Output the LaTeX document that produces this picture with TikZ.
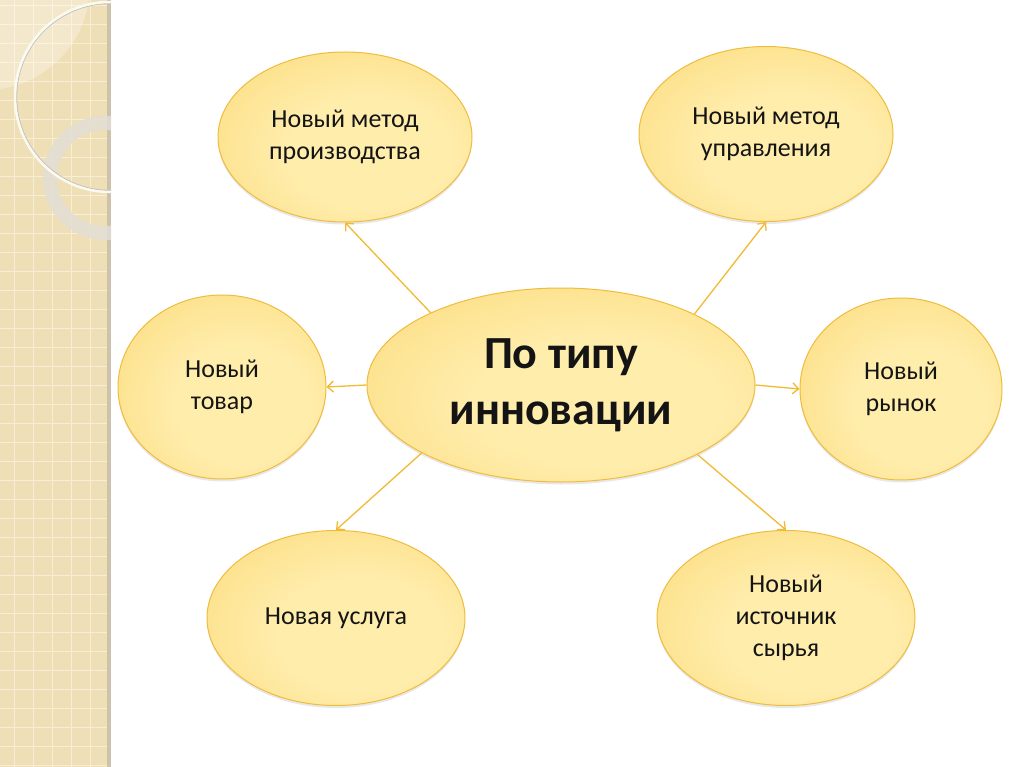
\documentclass[tikz,border=0pt]{standalone}
\usepackage{fontspec}
\setmainfont{Carlito}
\usetikzlibrary{shapes.geometric,arrows.meta,shadows}
\definecolor{ellfill}{RGB}{250,211,100}
\definecolor{elllight}{RGB}{255,237,172}
\definecolor{ellline}{RGB}{240,188,62}
\definecolor{arrowc}{RGB}{242,186,50}
\definecolor{stripc}{RGB}{239,223,183}
\definecolor{stripgrid}{RGB}{248,238,212}
\definecolor{stripedge}{RGB}{205,195,172}
\definecolor{ringc}{RGB}{226,222,212}
\definecolor{ringline}{RGB}{252,250,240}
\pgfdeclareradialshading{ellshade}{\pgfpoint{6bp}{-6bp}}{color(0bp)=(elllight); color(16bp)=(elllight); color(52bp)=(ellfill); color(75bp)=(ellfill)}
\tikzset{
  bubble/.style={ellipse, draw=ellline, line width=1pt, shading=ellshade,
    inner sep=0pt, align=center, text=black!92,
    font=\fontsize{26}{32}\selectfont,
    drop shadow={shadow xshift=0pt, shadow yshift=-2.5pt, opacity=0.09, fill=black}},
  conn/.style={draw=arrowc, line width=1.3pt, -{Straight Barb[length=6pt,width=11pt]}}
}
\begin{document}
\begin{tikzpicture}[x=1pt,y=-1pt]
\useasboundingbox (0,0) rectangle (1024,767);
\fill[white] (0,0) rectangle (1024,767);
% decorative strip
\begin{scope}
  \clip (0,0) rectangle (111,767);
  \fill[stripc] (0,0) rectangle (107,767);
  \foreach \i in {0,...,40} \draw[stripgrid, line width=0.9pt] (0,\i*19+5) -- (107,\i*19+5);
  \foreach \i in {0,...,5} \draw[stripgrid, line width=0.9pt] (\i*19+14,0) -- (\i*19+14,767);
  \fill[stripedge] (107,0) rectangle (111,767);
  \fill[white, opacity=0.3] (-15,-15) circle (105);
  \fill[ringc, opacity=0.85, even odd rule] (105,178) circle (62) (105,178) circle (48);
  \draw[black!25, line width=1pt] (110,97) circle (93.4);
  \draw[ringline, line width=2.5pt] (110,97) circle (95);
\end{scope}
% nodes
\node[bubble, minimum width=254pt, minimum height=170pt] (tl) at (345,137) {Новый метод\\производства};
\node[bubble, minimum width=254pt, minimum height=175pt] (tr) at (766,134) {Новый метод\\управления};
\node[bubble, minimum width=208pt, minimum height=184pt] (l) at (222,387) {Новый\\товар};
\node[bubble, minimum width=202pt, minimum height=182pt] (r) at (901,389) {Новый\\рынок};
\node[bubble, minimum width=258pt, minimum height=175pt] (bl) at (336,618) {Новая услуга};
\node[bubble, minimum width=258pt, minimum height=175pt] (br) at (786,618) {Новый\\источник\\сырья};
\node[bubble, minimum width=388pt, minimum height=194pt, font=\fontsize{46}{56}\selectfont\bfseries] (c) at (561,385) {По типу\\инновации};
% connectors
\draw[conn] (c.151) -- (tl.south);
\draw[conn] (c.28) -- (tr.south);
\draw[conn] (c.west) -- (l.east);
\draw[conn] (c.east) -- (r.west);
\draw[conn] (c.206) -- (bl.north);
\draw[conn] (c.333) -- (br.north);
\end{tikzpicture}
\end{document}
